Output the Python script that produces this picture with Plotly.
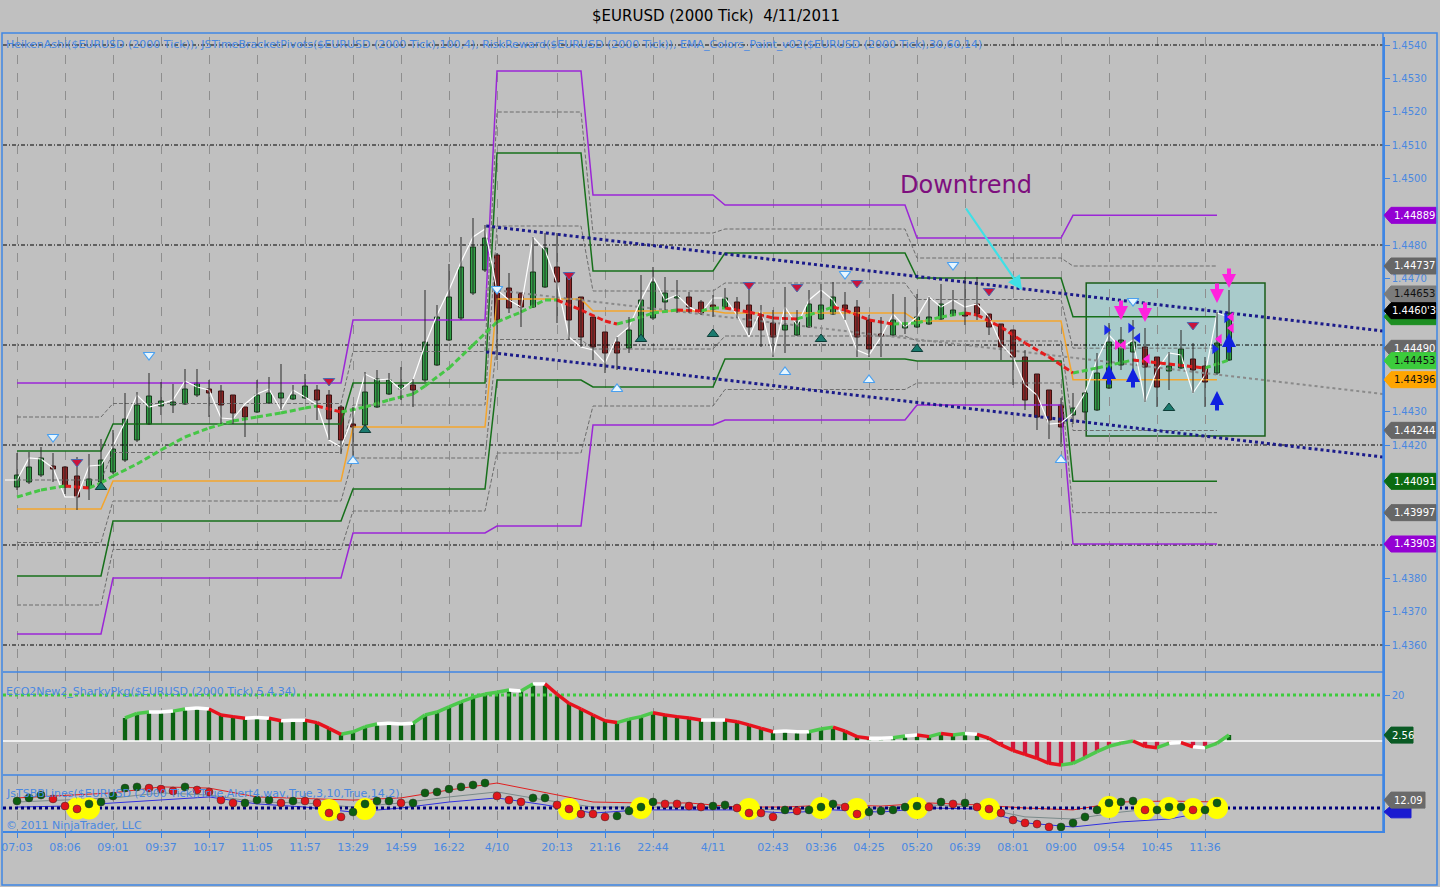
import plotly.graph_objects as go

# ============================ DATA ============================
bars = list(range(102))

x_tick_bars = [0, 4, 8, 12, 16, 20, 24, 28, 32, 36, 40, 45, 49, 53, 58, 63, 67, 71, 75, 79, 83, 87, 91, 95, 99]
x_tick_labels = ["07:03", "08:06", "09:01", "09:37", "10:17", "11:05", "11:57", "13:29", "14:59", "16:22",
                 "4/10", "20:13", "21:16", "22:44", "4/11", "02:43", "03:36", "04:25", "05:20", "06:39",
                 "08:01", "09:00", "09:54", "10:45", "11:36"]

price_tick_vals = [1.4360, 1.4370, 1.4380, 1.4420, 1.4430, 1.4470, 1.4480, 1.4500, 1.4510, 1.4520, 1.4530, 1.4540]
price_tick_text = ["1.4360", "1.4370", "1.4380", "1.4420", "1.4430", "1.4470", "1.4480", "1.4500", "1.4510",
                   "1.4520", "1.4530", "1.4540"]
price_grid_levels = [1.4360, 1.4390, 1.4420, 1.4450, 1.4480, 1.4510, 1.4540]

# Heiken Ashi candles
ha_open = [1.44074, 1.44089, 1.44110, 1.44137, 1.44134, 1.44107, 1.44074, 1.44089, 1.44119, 1.44155,
           1.44215, 1.44263, 1.44317, 1.44320, 1.44323, 1.44350, 1.44368, 1.44362, 1.44350, 1.44314,
           1.44299, 1.44326, 1.44341, 1.44338, 1.44341, 1.44365, 1.44350, 1.44314, 1.44263, 1.44260,
           1.44314, 1.44353, 1.44368, 1.44380, 1.44395, 1.44440, 1.44515, 1.44581, 1.44656, 1.44725,
           1.44770, 1.44671, 1.44656, 1.44614, 1.44674, 1.44734, 1.44704, 1.44644, 1.44584, 1.44539,
           1.44509, 1.44491, 1.44515, 1.44581, 1.44629, 1.44641, 1.44644, 1.44629, 1.44620, 1.44614,
           1.44629, 1.44620, 1.44590, 1.44566, 1.44545, 1.44530, 1.44554, 1.44578, 1.44593, 1.44620,
           1.44614, 1.44575, 1.44533, 1.44530, 1.44551, 1.44554, 1.44563, 1.44578, 1.44590, 1.44596,
           1.44623, 1.44593, 1.44563, 1.44545, 1.44464, 1.44413, 1.44365, 1.44320, 1.44290, 1.44299,
           1.44305, 1.44371, 1.44440, 1.44479, 1.44494, 1.44464, 1.44422, 1.44431, 1.44458, 1.44437,
           1.44416, 1.44455]
ha_high = [1.44176, 1.44179, 1.44194, 1.44176, 1.44137, 1.44164, 1.44173, 1.44218, 1.44245, 1.44356,
           1.44359, 1.44416, 1.44389, 1.44383, 1.44428, 1.44428, 1.44395, 1.44380, 1.44350, 1.44314,
           1.44395, 1.44404, 1.44443, 1.44380, 1.44413, 1.44380, 1.44365, 1.44320, 1.44314, 1.44419,
           1.44425, 1.44416, 1.44434, 1.44398, 1.44665, 1.44620, 1.44743, 1.44824, 1.44881, 1.44860,
           1.44776, 1.44716, 1.44656, 1.44824, 1.44836, 1.44836, 1.44704, 1.44644, 1.44584, 1.44539,
           1.44524, 1.44584, 1.44710, 1.44734, 1.44704, 1.44695, 1.44659, 1.44635, 1.44650, 1.44671,
           1.44644, 1.44686, 1.44620, 1.44605, 1.44674, 1.44605, 1.44665, 1.44683, 1.44689, 1.44659,
           1.44635, 1.44590, 1.44584, 1.44653, 1.44644, 1.44653, 1.44644, 1.44683, 1.44665, 1.44704,
           1.44704, 1.44593, 1.44563, 1.44545, 1.44485, 1.44413, 1.44365, 1.44341, 1.44356, 1.44359,
           1.44476, 1.44566, 1.44554, 1.44575, 1.44551, 1.44464, 1.44479, 1.44545, 1.44506, 1.44464,
           1.44599, 1.44665]
ha_low = [1.44065, 1.44083, 1.44104, 1.44089, 1.44053, 1.44005, 1.44035, 1.44083, 1.44113, 1.44149,
          1.44209, 1.44260, 1.44290, 1.44296, 1.44320, 1.44344, 1.44284, 1.44263, 1.44263, 1.44224,
          1.44296, 1.44323, 1.44305, 1.44335, 1.44338, 1.44275, 1.44215, 1.44173, 1.44161, 1.44257,
          1.44311, 1.44350, 1.44335, 1.44314, 1.44389, 1.44437, 1.44512, 1.44575, 1.44650, 1.44719,
          1.44455, 1.44596, 1.44554, 1.44611, 1.44671, 1.44566, 1.44515, 1.44494, 1.44455, 1.44416,
          1.44425, 1.44476, 1.44509, 1.44575, 1.44605, 1.44596, 1.44596, 1.44590, 1.44584, 1.44611,
          1.44581, 1.44530, 1.44494, 1.44464, 1.44476, 1.44527, 1.44551, 1.44575, 1.44590, 1.44575,
          1.44464, 1.44464, 1.44464, 1.44527, 1.44533, 1.44551, 1.44560, 1.44575, 1.44587, 1.44560,
          1.44575, 1.44530, 1.44455, 1.44380, 1.44305, 1.44245, 1.44218, 1.44194, 1.44263, 1.44275,
          1.44302, 1.44368, 1.44425, 1.44419, 1.44329, 1.44314, 1.44365, 1.44428, 1.44356, 1.44314,
          1.44410, 1.44452]
ha_close = [1.44110, 1.44134, 1.44161, 1.44128, 1.44074, 1.44044, 1.44098, 1.44155, 1.44188, 1.44278,
            1.44320, 1.44347, 1.44332, 1.44329, 1.44368, 1.44386, 1.44356, 1.44320, 1.44296, 1.44284,
            1.44350, 1.44356, 1.44356, 1.44350, 1.44377, 1.44335, 1.44278, 1.44215, 1.44254, 1.44359,
            1.44398, 1.44395, 1.44380, 1.44365, 1.44509, 1.44584, 1.44644, 1.44734, 1.44794, 1.44821,
            1.44575, 1.44611, 1.44614, 1.44719, 1.44791, 1.44689, 1.44575, 1.44524, 1.44494, 1.44476,
            1.44476, 1.44545, 1.44635, 1.44689, 1.44656, 1.44647, 1.44614, 1.44596, 1.44608, 1.44641,
            1.44605, 1.44554, 1.44545, 1.44524, 1.44560, 1.44569, 1.44623, 1.44620, 1.44644, 1.44608,
            1.44524, 1.44488, 1.44527, 1.44575, 1.44560, 1.44584, 1.44584, 1.44623, 1.44605, 1.44587,
            1.44593, 1.44554, 1.44494, 1.44464, 1.44335, 1.44284, 1.44275, 1.44254, 1.44311, 1.44356,
            1.44416, 1.44509, 1.44515, 1.44509, 1.44434, 1.44374, 1.44437, 1.44488, 1.44425, 1.44389,
            1.44506, 1.44596]

# actual close (white line)
close_x = list(range(-1, 102))
close_line = [1.44095,
              1.44095, 1.44161, 1.44158, 1.44131, 1.44044, 1.44044, 1.44137, 1.44140, 1.44197, 1.44269,
              1.44350, 1.44314, 1.44323, 1.44335, 1.44392, 1.44374, 1.44365, 1.44281, 1.44278, 1.44323,
              1.44353, 1.44368, 1.44305, 1.44365, 1.44344, 1.44320, 1.44215, 1.44194, 1.44284, 1.44413,
              1.44395, 1.44398, 1.44365, 1.44395, 1.44500, 1.44590, 1.44665, 1.44749, 1.44824, 1.44848,
              1.44665, 1.44635, 1.44614, 1.44824, 1.44785, 1.44686, 1.44524, 1.44494, 1.44485, 1.44446,
              1.44524, 1.44554, 1.44635, 1.44704, 1.44635, 1.44650, 1.44614, 1.44596, 1.44641, 1.44641,
              1.44590, 1.44524, 1.44605, 1.44470, 1.44614, 1.44560, 1.44635, 1.44665, 1.44635, 1.44575,
              1.44485, 1.44470, 1.44524, 1.44593, 1.44554, 1.44584, 1.44644, 1.44614, 1.44635, 1.44614,
              1.44623, 1.44584, 1.44503, 1.44464, 1.44380, 1.44350, 1.44263, 1.44266, 1.44296, 1.44356,
              1.44455, 1.44530, 1.44491, 1.44515, 1.44329, 1.44425, 1.44476, 1.44470, 1.44356, 1.44410,
              1.44596, 1.44584]

# EMA (colour paint)
ema_x = [0, 2, 4, 6, 7, 8, 10, 12, 14, 16, 18, 20, 22, 24, 25, 27, 29, 31, 33, 34,
         36, 38, 40, 42, 44, 45, 47, 49, 50, 51, 53, 55, 57, 58, 59, 61, 63, 65, 66, 68,
         69, 71, 73, 75, 77, 79, 80, 82, 84, 86, 88, 90, 93, 96, 99, 101]
ema_val = [1.44044, 1.44065, 1.44077, 1.44071, 1.44086, 1.44107, 1.44143, 1.44185, 1.44224, 1.44251,
           1.44272, 1.44284, 1.44296, 1.44311, 1.44317, 1.44299, 1.44314, 1.44335, 1.44353, 1.44377,
           1.44431, 1.44500, 1.44569, 1.44599, 1.44635, 1.44635, 1.44605, 1.44572, 1.44563, 1.44572,
           1.44596, 1.44605, 1.44602, 1.44611, 1.44611, 1.44599, 1.44581, 1.44578, 1.44590, 1.44614,
           1.44605, 1.44575, 1.44563, 1.44566, 1.44584, 1.44596, 1.44590, 1.44554, 1.44506, 1.44464,
           1.44416, 1.44431, 1.44455, 1.44443, 1.44431, 1.44455]

# time bracket pivots, per session
piv_start = [0, 8, 28, 40, 48, 59, 75, 88]
piv_end = [7, 27, 39, 47, 58, 74, 87, 100]
piv_r2 = [1.44386, 1.44386, 1.44575, 1.45322, 1.44950, 1.44920, 1.44821, 1.44889]
piv_r1 = [1.44182, 1.44263, 1.44386, 1.45076, 1.44722, 1.44776, 1.44701, 1.44585]
piv_pp = [1.44008, 1.44092, 1.44254, 1.44638, 1.44602, 1.44596, 1.44572, 1.44396]
piv_s1 = [1.43807, 1.43972, 1.44068, 1.44395, 1.44374, 1.44458, 1.44452, 1.44091]
piv_s2 = [1.43633, 1.43801, 1.43936, 1.43957, 1.44260, 1.44275, 1.44320, 1.43903]

# drawn regression channel
channel_x = [39.1, 113.83]
channel_top = [1.44857, 1.44542]
channel_mid = [1.44668, 1.44353]
channel_bot = [1.44479, 1.44164]

# drawn box
box_x = [89.1, 104.0]
box_y = [1.44227, 1.44686]

# swing markers
swing_hi_x = [3, 11, 40, 69, 78, 93]
swing_hi_y = [1.44224, 1.44470, 1.44668, 1.44713, 1.44740, 1.44632]
sell_x = [5, 26, 46, 61, 65, 70, 81, 98]
sell_y = [1.44149, 1.44392, 1.44710, 1.44680, 1.44674, 1.44686, 1.44662, 1.44560]
buy_x = [7, 29, 52, 58, 67, 75, 96]
buy_y = [1.44074, 1.44245, 1.44518, 1.44533, 1.44518, 1.44488, 1.44311]
swing_lo_x = [28, 50, 64, 71, 87]
swing_lo_y = [1.44152, 1.44368, 1.44419, 1.44395, 1.44155]

# risk/reward arrows (tip prices)
up_arrow_x = [91, 93, 100, 101]
up_arrow_y = [1.44440, 1.44431, 1.44362, 1.44536]
dn_arrow_x = [92, 94, 100, 101]
dn_arrow_y = [1.44575, 1.44569, 1.44626, 1.44671]
blue_right_x = [90.8, 92.8, 99.8, 100.8]
blue_right_y = [1.44545, 1.44551, 1.44488, 1.44581]
blue_left_x = [93.4]
blue_left_y = [1.44521]
mag_right_x = [91.7]
mag_right_y = [1.44500]
mag_left_x = [92.2, 94.2, 100.2, 101.2, 101.2]
mag_left_y = [1.44500, 1.44458, 1.44518, 1.44584, 1.44551]

# right axis price markers
main_flag_price = [1.44889, 1.44737, 1.44653, 1.44585, 1.44603, 1.44490, 1.44453, 1.44396, 1.44244,
                   1.44091, 1.43997, 1.43903]
main_flag_text = ["1.44889", "1.44737", "1.44653", "", "1.4460'3", "1.44490", "1.44453", "1.44396",
                  "1.44244", "1.44091", "1.43997", "1.43903"]

# ECO2New2 histogram
eco_x = list(range(9, 102))
eco_val = [10.0, 12.0, 12.6, 12.6, 13.0, 13.9, 14.3, 13.9, 11.3, 10.6,
           9.9, 10.2, 9.9, 8.8, 9.0, 9.0, 8.0, 5.5, 2.9, 4.0,
           6.2, 7.4, 7.7, 7.4, 7.7, 11.3, 12.6, 14.8, 17.0, 19.0,
           20.4, 21.2, 22.2, 21.7, 24.8, 24.8, 20.4, 16.4, 13.9, 11.3,
           8.8, 8.0, 9.5, 10.6, 12.3, 11.3, 10.6, 10.0, 9.1, 9.1,
           9.1, 8.4, 7.0, 5.5, 4.0, 4.3, 4.0, 4.0, 5.2, 6.0,
           4.3, 1.9, 1.2, 1.2, 1.4, 2.2, 2.6, 1.9, 3.3, 2.6,
           3.3, 2.9, 1.2, -1.7, -4.1, -5.8, -7.5, -9.7, -10.4, -9.7,
           -7.2, -4.6, -2.3, -1.0, 0.0, -2.3, -2.9, -1.0, -0.7, -2.5,
           -2.9, -1.0, 2.6]
eco_level = 20
eco_last = 2.56

# JsTSBBLines
ts_x = list(range(101))
ts_dot = [12.9, 14.2, 15.4, 13.8, 10.8, 9.6, 11.7, 12.5, 15.0, 18.3,
          18.8, 18.3, 17.9, 17.1, 18.8, 17.5, 16.7, 13.3, 12.1, 12.1,
          13.3, 13.3, 12.1, 12.9, 12.9, 12.1, 7.9, 6.3, 8.3, 11.7,
          12.9, 12.9, 12.1, 12.1, 16.3, 16.7, 17.9, 18.8, 19.6, 20.4,
          15.0, 13.3, 12.5, 14.2, 14.2, 11.3, 9.6, 7.5, 7.5, 6.3,
          6.7, 8.8, 10.4, 12.5, 11.7, 11.7, 10.8, 10.4, 10.8, 11.3,
          10.0, 7.9, 7.9, 6.3, 9.2, 8.8, 9.2, 10.4, 11.7, 10.4,
          7.5, 8.3, 8.8, 9.2, 10.4, 10.8, 10.4, 12.5, 11.7, 12.1,
          10.4, 9.6, 7.9, 5.0, 3.8, 3.3, 2.1, 2.1, 3.8, 6.3,
          9.2, 12.1, 12.5, 12.9, 9.2, 9.2, 10.4, 10.4, 9.2, 9.2,
          12.1]
ts_dot_side = ("gggrrrgggg" "grrrgrrrrg" "ggrgrrrrgg" "ggrggggggg" "rrrggrrrrr"
               "ggggrrrrgg" "rrrrgrgggr" "rgggggrgrg" "rrrrrrrggg" "ggggrgggrg" "g")
ts_alert_x = [5, 6, 26, 29, 46, 52, 61, 67, 70, 75, 81, 91, 94, 96, 98, 100]
ts_alert_y = [9.8, 9.8, 9.2, 9.6, 9.6, 10.0, 9.6, 10.0, 9.6, 10.0, 9.6, 10.4, 9.6, 10.0, 9.6, 10.0]
ts_band_x = list(range(0, 101, 4))
ts_upper = [14.2, 15.4, 16.3, 18.8, 18.3, 14.6, 13.8, 13.3, 14.2, 17.5, 20.4, 16.3, 12.5, 12.1, 12.1,
            10.4, 10.4, 11.3, 10.8, 12.1, 11.3, 10.0, 9.2, 12.5, 12.9, 12.5]
ts_mid = [12.5, 13.3, 14.2, 16.3, 15.4, 12.5, 12.1, 10.4, 12.1, 14.6, 16.7, 13.3, 10.4, 10.4, 10.4,
          10.0, 9.2, 10.4, 10.0, 11.3, 10.4, 6.3, 5.4, 8.3, 10.4, 10.4]
ts_lower = [10.4, 10.8, 12.1, 13.3, 14.6, 11.7, 10.4, 8.3, 10.0, 12.5, 14.2, 11.3, 7.9, 9.2, 9.2,
            9.2, 7.9, 9.2, 8.3, 10.0, 9.6, 3.8, 2.1, 4.2, 5.4, 9.2]
ts_ref_level = 10.0
ts_last = 12.09

# ============================ STYLE / GEOMETRY ============================
W, H = 1440, 887
L_PX, R_PX, T_PX, B_PX = 3, 1383, 37, 831
MAIN_BOT_PX, ECO_BOT_PX = 672, 775
FONT = "DejaVu Sans"
BG = "#c0c0c0"
BLUE = "#3f86e4"
BLUE_TXT = "#4a88e0"
PURPLE = "#9b26d6"
PGREEN = "#17701b"
PGRAY = "#6c6c6c"
ORANGE = "#f4a52c"
NAVY = "#1b1b8a"

X_RANGE = [-1.1667, 113.8333]
Y_MAIN = [1.43519, 1.45424]
Y_ECO = [-14.78, 30.0]
Y_TS = [0.417, 23.75]


def ppx(px):
    return (px - L_PX) / (R_PX - L_PX)


def ppy(py):
    return (B_PX - py) / (B_PX - T_PX)


DOM_MAIN = [ppy(MAIN_BOT_PX), 1.0]
DOM_ECO = [ppy(ECO_BOT_PX), ppy(MAIN_BOT_PX)]
DOM_TS = [0.0, ppy(ECO_BOT_PX)]


def v2p(v, rng, dom):
    return dom[0] + (v - rng[0]) / (rng[1] - rng[0]) * (dom[1] - dom[0])


fig = go.Figure()
NOH = dict(hoverinfo="skip", showlegend=False)

# ---- horizontal dash-dot grid (main) ----
for lvl in price_grid_levels:
    fig.add_trace(go.Scatter(x=X_RANGE, y=[lvl, lvl], mode="lines",
                             line=dict(color="#000000", width=1, dash="4px,2px,1px,2px"), **NOH))


# ---- pivots ----
def level_line(levels):
    xs, ys = [], []
    for s, e, v in zip(piv_start, piv_end, levels):
        xs += [s, e]
        ys += [v, v]
    return xs, ys


def mid(a, b):
    return [(p + q) / 2 for p, q in zip(a, b)]


for lv in [mid(piv_r2, piv_r1), mid(piv_r1, piv_pp), mid(piv_pp, piv_s1), mid(piv_s1, piv_s2)]:
    xs, ys = level_line(lv)
    fig.add_trace(go.Scatter(x=xs, y=ys, mode="lines", line=dict(color=PGRAY, width=1, dash="4px,2px"), **NOH))
for lv, col in [(piv_r2, PURPLE), (piv_s2, PURPLE), (piv_r1, PGREEN), (piv_s1, PGREEN), (piv_pp, ORANGE)]:
    xs, ys = level_line(lv)
    fig.add_trace(go.Scatter(x=xs, y=ys, mode="lines", line=dict(color=col, width=1.5), **NOH))

# ---- box ----
fig.add_shape(type="rect", xref="x", yref="y", x0=box_x[0], x1=box_x[1], y0=box_y[0], y1=box_y[1],
              fillcolor="rgba(150,212,212,0.55)", line=dict(color="#1a5e1a", width=1.5), layer="below")

# ---- channel ----
fig.add_trace(go.Scatter(x=channel_x, y=channel_mid, mode="lines",
                         line=dict(color="#8a8a8a", width=2, dash="dot"), **NOH))
for ys in (channel_top, channel_bot):
    fig.add_trace(go.Scatter(x=channel_x, y=ys, mode="lines",
                             line=dict(color=NAVY, width=3, dash="dot"), **NOH))

# ---- white close line ----
fig.add_trace(go.Scatter(x=close_x, y=close_line, mode="lines", line=dict(color="white", width=1.2), **NOH))

# ---- EMA coloured ----
seg = {"g": ([], []), "r": ([], [])}
prev = "g"
for i in range(len(ema_x) - 1):
    d = ema_val[i + 1] - ema_val[i]
    c = "g" if d > 0 else ("r" if d < 0 else prev)
    prev = c
    seg[c][0].extend([ema_x[i], ema_x[i + 1], None])
    seg[c][1].extend([ema_val[i], ema_val[i + 1], None])
for c, col in (("g", "#46c646"), ("r", "#e41c1c")):
    fig.add_trace(go.Scatter(x=seg[c][0], y=seg[c][1], mode="lines",
                             line=dict(color=col, width=3, dash="6px,3px"), **NOH))

# ---- candles ----
wx, wy = [], []
for i in bars:
    wx += [i, i, None]
    wy += [ha_low[i], ha_high[i], None]
fig.add_trace(go.Scatter(x=wx, y=wy, mode="lines", line=dict(color="#2b2b2b", width=1), **NOH))
body_base = [min(o, c) for o, c in zip(ha_open, ha_close)]
body_h = [max(abs(c - o), 0.00003) for o, c in zip(ha_open, ha_close)]
up = [c >= o for o, c in zip(ha_open, ha_close)]
fig.add_trace(go.Bar(x=bars, y=body_h, base=body_base, width=0.42,
                     marker=dict(color=["#2f9e44" if u else "#8e2424" for u in up],
                                 line=dict(color=["#163a1a" if u else "#3a1010" for u in up], width=1)),
                     **NOH))

# ---- swing markers ----
fig.add_trace(go.Scatter(x=swing_hi_x, y=swing_hi_y, mode="markers",
                         marker=dict(symbol="triangle-down", size=10, color="#e6f6ff",
                                     line=dict(color="#4aa0f0", width=1.2)), **NOH))
fig.add_trace(go.Scatter(x=sell_x, y=sell_y, mode="markers",
                         marker=dict(symbol="triangle-down", size=10, color="#c8143c",
                                     line=dict(color="#4a6ab0", width=1)), **NOH))
fig.add_trace(go.Scatter(x=buy_x, y=buy_y, mode="markers",
                         marker=dict(symbol="triangle-up", size=10, color="#1a7a6e",
                                     line=dict(color="#0e3c36", width=1)), **NOH))
fig.add_trace(go.Scatter(x=swing_lo_x, y=swing_lo_y, mode="markers",
                         marker=dict(symbol="triangle-up", size=10, color="#e6f6ff",
                                     line=dict(color="#4aa0f0", width=1.2)), **NOH))
fig.add_trace(go.Scatter(x=blue_right_x, y=blue_right_y, mode="markers",
                         marker=dict(symbol="triangle-right", size=9, color="#1a2ae8"), **NOH))
fig.add_trace(go.Scatter(x=blue_left_x, y=blue_left_y, mode="markers",
                         marker=dict(symbol="triangle-left", size=9, color="#1a2ae8"), **NOH))
fig.add_trace(go.Scatter(x=mag_right_x, y=mag_right_y, mode="markers",
                         marker=dict(symbol="triangle-right", size=9, color="#ff22dd"), **NOH))
fig.add_trace(go.Scatter(x=mag_left_x, y=mag_left_y, mode="markers",
                         marker=dict(symbol="triangle-left", size=9, color="#ff22dd"), **NOH))

for x, y in zip(up_arrow_x, up_arrow_y):
    fig.add_annotation(x=x, y=y, xref="x", yref="y", ax=0, ay=21, text="", showarrow=True,
                       arrowhead=2, arrowsize=0.7, arrowwidth=4, arrowcolor="#1020e0")
for x, y in zip(dn_arrow_x, dn_arrow_y):
    fig.add_annotation(x=x, y=y, xref="x", yref="y", ax=0, ay=-21, text="", showarrow=True,
                       arrowhead=2, arrowsize=0.7, arrowwidth=4, arrowcolor="#ff22dd")

# ---- Downtrend label ----
fig.add_annotation(x=79.1, y=1.44980, xref="x", yref="y", text="Downtrend", showarrow=False,
                   font=dict(family=FONT, size=24, color="#7e0f7e"))
fig.add_annotation(x=83.75, y=1.44665, xref="x", yref="y", ax=79.0, ay=1.44914, axref="x", ayref="y",
                   text="", showarrow=True, arrowhead=2, arrowsize=1.3, arrowwidth=2.2, arrowcolor="#3ee0e6")

# ================= ECO panel =================
fig.add_trace(go.Scatter(x=X_RANGE, y=[eco_level, eco_level], yaxis="y2", mode="lines",
                         line=dict(color="#3ccc3c", width=3, dash="dot"), **NOH))
fig.add_trace(go.Scatter(x=X_RANGE, y=[0, 0], yaxis="y2", mode="lines",
                         line=dict(color="white", width=1.5), **NOH))
fig.add_trace(go.Bar(x=eco_x, y=eco_val, base=0, width=0.36, yaxis="y2",
                     marker=dict(color=["#0b6312" if v >= 0 else "#d0163c" for v in eco_val], line=dict(width=0)),
                     **NOH))
eseg = {"g": ([], []), "r": ([], []), "w": ([], [])}
for i in range(len(eco_x) - 1):
    d = eco_val[i + 1] - eco_val[i]
    c = "g" if d > 0.5 else ("r" if d < -0.5 else "w")
    eseg[c][0].extend([eco_x[i], eco_x[i + 1], None])
    eseg[c][1].extend([eco_val[i], eco_val[i + 1], None])
for c, col in (("w", "white"), ("g", "#4cc94c"), ("r", "#e8121e")):
    fig.add_trace(go.Scatter(x=eseg[c][0], y=eseg[c][1], yaxis="y2", mode="lines",
                             line=dict(color=col, width=3.5), **NOH))

# ================= TS panel =================
fig.add_trace(go.Scatter(x=ts_band_x, y=ts_upper, yaxis="y3", mode="lines",
                         line=dict(color="#e02020", width=1), **NOH))
fig.add_trace(go.Scatter(x=ts_band_x, y=ts_mid, yaxis="y3", mode="lines",
                         line=dict(color="#7a8a8a", width=1), **NOH))
fig.add_trace(go.Scatter(x=ts_band_x, y=ts_lower, yaxis="y3", mode="lines",
                         line=dict(color="#3030e0", width=1), **NOH))
fig.add_trace(go.Scatter(x=[X_RANGE[0], X_RANGE[1]], y=[ts_ref_level, ts_ref_level], yaxis="y3", mode="lines",
                         line=dict(color="#00007a", width=3, dash="dot"), **NOH))
fig.add_trace(go.Scatter(x=ts_alert_x, y=ts_alert_y, yaxis="y3", mode="markers",
                         marker=dict(size=22, color="#ffff00", line=dict(width=0)), **NOH))
fig.add_trace(go.Scatter(x=ts_x, y=ts_dot, yaxis="y3", mode="markers",
                         marker=dict(size=8, color=["#0d5e12" if s == "g" else "#e0161c" for s in ts_dot_side],
                                     line=dict(color="#303030", width=0.5)), **NOH))

# ================= right-axis flags =================
main_flag_fill = ["#9400d3", "#676767", "#7c7c7c", "#1d8f22", "#000000", "#676767", "#3ccc3c", "#ffa500",
                  "#676767", "#0b6b10", "#676767", "#9400d3"]
main_flag_font = ["white", "white", "#111111", "white", "white", "white", "#111111", "#111111",
                  "white", "white", "white", "white"]


def add_flag(yp, fill, text, tcol, w=52, h=8):
    x_tip, x_b, x_e = ppx(1384), ppx(1391), ppx(1384 + w)
    hh = h / (B_PX - T_PX)
    path = (f"M {x_tip},{yp} L {x_b},{yp + hh} L {x_e},{yp + hh} L {x_e},{yp - hh} "
            f"L {x_b},{yp - hh} Z")
    fig.add_shape(type="path", path=path, xref="paper", yref="paper", fillcolor=fill,
                  line=dict(color=fill, width=1), layer="above")
    if text:
        fig.add_annotation(x=(x_b + x_e) / 2 + 0.0005, y=yp, xref="paper", yref="paper", text=text,
                           showarrow=False, xanchor="center", yanchor="middle",
                           font=dict(family=FONT, size=10, color=tcol))


for p, t, f, tc in zip(main_flag_price, main_flag_text, main_flag_fill, main_flag_font):
    add_flag(v2p(p, Y_MAIN, DOM_MAIN), f, t, tc)
add_flag(v2p(eco_last, Y_ECO, DOM_ECO), "#0a5a24", f"{eco_last:.2f}", "white", w=29)
add_flag(v2p(ts_ref_level - 1.6, Y_TS, DOM_TS), "#1a1ad0", "", "white", w=27, h=6)
add_flag(v2p(ts_last + 1.2, Y_TS, DOM_TS), "#6a6a6a", f"{ts_last:.2f}", "white", w=41)

# ================= frame / separators =================
fig.add_shape(type="rect", xref="paper", yref="paper", x0=ppx(2), x1=ppx(1437), y0=ppy(885), y1=ppy(33),
              line=dict(color=BLUE, width=1.5), fillcolor="rgba(0,0,0,0)", layer="above")
for ypx in (MAIN_BOT_PX, ECO_BOT_PX):
    fig.add_shape(type="line", xref="paper", yref="paper", x0=0, x1=1, y0=ppy(ypx), y1=ppy(ypx),
                  line=dict(color=BLUE, width=1.5), layer="above")
fig.add_shape(type="line", xref="paper", yref="paper", x0=1, x1=1, y0=0, y1=ppy(33),
              line=dict(color=BLUE, width=1.5), layer="above")


# ================= texts =================
def txt(px, py, s, size=11, color=BLUE_TXT, anchor="left"):
    fig.add_annotation(x=ppx(px), y=ppy(py), xref="paper", yref="paper", text=s, showarrow=False,
                       xanchor=anchor, yanchor="middle", font=dict(family=FONT, size=size, color=color))


txt(716, 16, "$EURUSD (2000 Tick)&nbsp;&nbsp;4/11/2011", size=15, color="#000000", anchor="center")
txt(4, 45, "HeikenAshi($EURUSD (2000 Tick)), JSTimeBracketPivots($EURUSD (2000 Tick),100,4), "
           "RiskReward($EURUSD (2000 Tick)), EMA_Colors_Paint_v02($EURUSD (2000 Tick),30,60,14)", size=11)
txt(4, 691, "ECO2New2_SharkyPkg($EURUSD (2000 Tick),5,4,34)", size=11)
txt(4, 793, "JsTSBBLines($EURUSD (2000 Tick),True,Alert4.wav,True,3,10,True,14,2)", size=11)
txt(4, 825, "© 2011 NinjaTrader, LLC", size=11)

# ================= layout =================
yax_common = dict(side="right", anchor="x", showgrid=False, zeroline=False, showline=True, linecolor=BLUE,
                  linewidth=1.5, ticks="outside", ticklen=5, tickcolor=BLUE,
                  tickfont=dict(family=FONT, size=10, color=BLUE_TXT), fixedrange=True)
fig.update_layout(
    width=W, height=H, autosize=False,
    margin=dict(l=L_PX, r=W - R_PX, t=T_PX, b=H - B_PX, pad=0, autoexpand=False),
    paper_bgcolor=BG, plot_bgcolor=BG, template="none", showlegend=False, barmode="overlay",
    xaxis=dict(range=X_RANGE, anchor="y3", tickmode="array", tickvals=x_tick_bars, ticktext=x_tick_labels,
               showgrid=True, gridcolor="#8e8e8e", griddash="dash", gridwidth=1, zeroline=False,
               showline=True, linecolor=BLUE, linewidth=1.5, ticks="outside", ticklen=5, tickcolor=BLUE,
               tickfont=dict(family=FONT, size=11, color=BLUE_TXT), fixedrange=True),
    yaxis=dict(domain=DOM_MAIN, range=Y_MAIN, tickmode="array", tickvals=price_tick_vals,
               ticktext=price_tick_text, **yax_common),
    yaxis2=dict(domain=DOM_ECO, range=Y_ECO, tickmode="array", tickvals=[eco_level], ticktext=["20"],
                **yax_common),
    yaxis3=dict(domain=DOM_TS, range=Y_TS, tickmode="array", tickvals=[], **yax_common),
)

fig.write_html("out.html", config={"displayModeBar": False},
               post_script="document.body.style.margin='0';document.body.style.overflow='hidden';")
